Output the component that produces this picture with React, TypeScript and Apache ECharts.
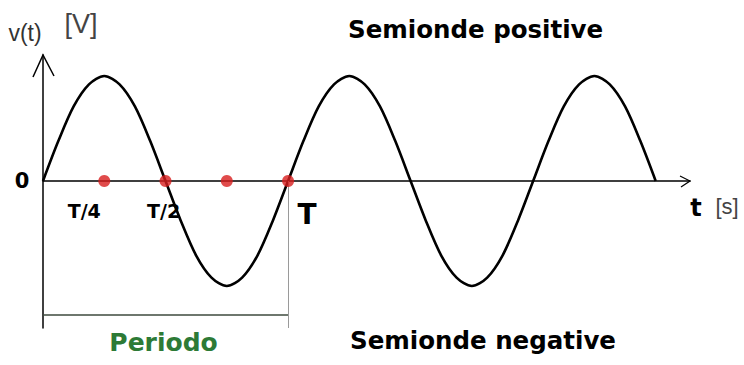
import React, { useEffect, useRef } from "react";
import * as echarts from "echarts";

// Sampled waveform, time in periods (T = 1), voltage normalised to the peak
const timeT = [
  0, 0.0625, 0.125, 0.1875, 0.25, 0.3125, 0.375, 0.4375, 0.5, 0.5625, 0.625,
  0.6875, 0.75, 0.8125, 0.875, 0.9375, 1, 1.0625, 1.125, 1.1875, 1.25, 1.3125,
  1.375, 1.4375, 1.5, 1.5625, 1.625, 1.6875, 1.75, 1.8125, 1.875, 1.9375, 2,
  2.0625, 2.125, 2.1875, 2.25, 2.3125, 2.375, 2.4375, 2.5,
];
const voltage = [
  0, 0.38, 0.71, 0.92, 1, 0.92, 0.71, 0.38, 0, -0.38, -0.71, -0.92, -1, -0.92,
  -0.71, -0.38, 0, 0.38, 0.71, 0.92, 1, 0.92, 0.71, 0.38, 0, -0.38, -0.71,
  -0.92, -1, -0.92, -0.71, -0.38, 0, 0.38, 0.71, 0.92, 1, 0.92, 0.71, 0.38, 0,
];

// Quarter-period markers on the time axis
const markerT = [0.25, 0.5, 0.75, 1];
const markerV = [0, 0, 0, 0];
const markerLabels = ["T/4", "T/2", "", "T"];

// One full period, shown as a bracket under the wave
const periodStart = 0;
const periodEnd = 1;
const periodLevel = -1.27;

const X_MAX = 2.64;
const Y_MIN = -1.4;
const Y_MAX = 1.2;

export default function App() {
  const ref = useRef<HTMLDivElement>(null);

  useEffect(() => {
    const chart = echarts.init(ref.current!, null, { renderer: "svg" });
    chart.setOption({
      animation: false,
      backgroundColor: "#ffffff",
      grid: { left: 43, top: 55, width: 647, height: 273 },
      xAxis: {
        type: "value",
        min: 0,
        max: X_MAX,
        axisLine: { onZero: true, lineStyle: { color: "#000", width: 1.5 } },
        axisTick: { show: false },
        axisLabel: { show: false },
        splitLine: { show: false },
      },
      yAxis: {
        type: "value",
        min: Y_MIN,
        max: Y_MAX,
        axisLine: { show: true, lineStyle: { color: "#000", width: 1.5 } },
        axisTick: { show: false },
        axisLabel: { show: false },
        splitLine: { show: false },
      },
      series: [
        {
          type: "line",
          data: timeT.map((t, i) => [t, voltage[i]]),
          smooth: 0.3,
          showSymbol: false,
          lineStyle: { color: "#000", width: 2.6 },
          z: 3,
          markLine: {
            silent: true,
            symbol: "none",
            label: { show: false },
            data: [
              [
                {
                  coord: [periodStart, periodLevel],
                  lineStyle: { color: "#3e4a3e", width: 1.5, type: "solid" },
                },
                { coord: [periodEnd, periodLevel] },
              ],
              [
                {
                  coord: [periodEnd, 0],
                  lineStyle: { color: "#9a9a9a", width: 1, type: "solid" },
                },
                { coord: [periodEnd, Y_MIN] },
              ],
            ],
          },
        },
        {
          type: "scatter",
          data: markerT.map((t, i) => [t, markerV[i]]),
          symbolSize: 12,
          itemStyle: { color: "#d81e1e" },
          z: 5,
        },
      ],
    });

    const px = (x: number, y: number) =>
      chart.convertToPixel({ gridIndex: 0 }, [x, y]) as number[];
    const top = px(0, Y_MAX);
    const end = px(X_MAX, 0);
    const origin = px(0, 0);
    const period = [px(periodStart, periodLevel), px(periodEnd, periodLevel)];

    const bold = "DejaVu Sans";
    const thin = "Liberation Sans";
    const labelOffsets = [
      [-20, 30],
      [-2, 30],
      [0, 0],
      [19, 33],
    ];
    const labelSizes = [19, 19, 19, 28];

    const graphic: any[] = [
      {
        type: "polyline",
        shape: { points: [[top[0] - 10, top[1] + 22], [top[0], top[1]], [top[0] + 11, top[1] + 21]] },
        style: { stroke: "#000", lineWidth: 1.5, fill: "none" },
      },
      {
        type: "polyline",
        shape: { points: [[end[0] - 10, end[1] - 5], [end[0], end[1]], [end[0] - 9, end[1] + 6]] },
        style: { stroke: "#000", lineWidth: 1.2, fill: "none" },
      },
      {
        type: "text",
        x: 25,
        y: 33,
        style: { text: "v(t)", font: `23px '${thin}'`, fill: "#333", align: "center", verticalAlign: "middle" },
      },
      {
        type: "text",
        x: 81,
        y: 24,
        style: { text: "[V]", font: `27px '${thin}'`, fill: "#444", align: "center", verticalAlign: "middle" },
      },
      {
        type: "text",
        x: origin[0] - 21,
        y: origin[1],
        style: { text: "0", font: `bold 21px '${bold}'`, fill: "#000", align: "center", verticalAlign: "middle" },
      },
      {
        type: "text",
        x: end[0] + 6,
        y: 208,
        style: { text: "t", font: `bold 24px '${bold}'`, fill: "#000", align: "center", verticalAlign: "middle" },
      },
      {
        type: "text",
        x: 727,
        y: 206,
        style: { text: "[s]", font: `22px '${thin}'`, fill: "#444", align: "center", verticalAlign: "middle" },
      },
      {
        type: "text",
        x: 348,
        y: 29.5,
        style: { text: "Semionde positive", font: `bold 24.5px '${bold}'`, fill: "#000", align: "left", verticalAlign: "middle" },
      },
      {
        type: "text",
        x: 350,
        y: 340,
        style: { text: "Semionde negative", font: `bold 24.5px '${bold}'`, fill: "#000", align: "left", verticalAlign: "middle" },
      },
      {
        type: "text",
        x: (period[0][0] + period[1][0]) / 2 - 2,
        y: 342,
        style: { text: "Periodo", font: `bold 25px '${bold}'`, fill: "#2d7a36", align: "center", verticalAlign: "middle" },
      },
    ];

    markerT.forEach((t, i) => {
      if (!markerLabels[i]) return;
      const p = px(t, markerV[i]);
      graphic.push({
        type: "text",
        x: p[0] + labelOffsets[i][0],
        y: p[1] + labelOffsets[i][1],
        style: {
          text: markerLabels[i],
          font: `bold ${labelSizes[i]}px '${bold}'`,
          fill: "#000",
          align: "center",
          verticalAlign: "middle",
        },
      });
    });

    chart.setOption({ graphic });

    return () => chart.dispose();
  }, []);

  return (
    <div
      ref={ref}
      style={{ position: "fixed", left: 0, top: 0, width: 744, height: 365, background: "#fff" }}
    />
  );
}
